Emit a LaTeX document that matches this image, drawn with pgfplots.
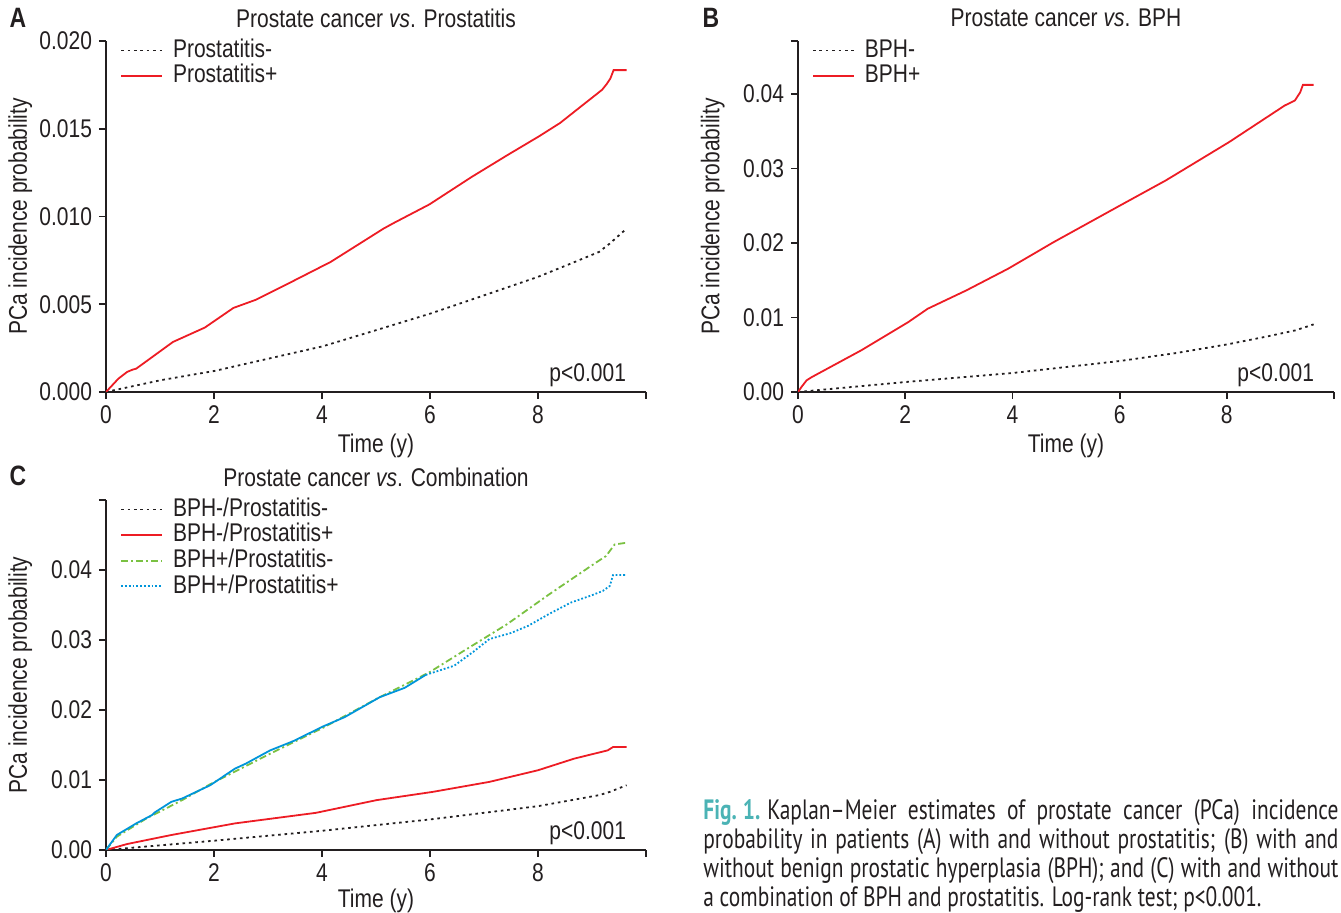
\documentclass[border=0pt]{standalone}
\usepackage{pgfplots}
\pgfplotsset{compat=1.18}
\usepackage{fontspec}
\setmainfont[FakeStretch=0.82]{Liberation Sans}
\newfontfamily\capfont[FakeStretch=0.765, Ligatures=TeX]{PT Sans}
\definecolor{txt}{HTML}{231F20}
\definecolor{kmred}{HTML}{ED1C24}
\definecolor{kmgreen}{HTML}{7AC142}
\definecolor{kmblue}{HTML}{0095DA}
\definecolor{figteal}{HTML}{4BB3B5}

\newcommand{\fs}{\fontsize{12.8}{14}\selectfont}

\pgfplotsset{
  km/.style={
    scale only axis, width=270pt, height=175.5pt,
    xmin=0, xmax=10, ymin=0,
    axis x line*=bottom, axis y line*=left,
    axis line style={-, line width=0.9pt},
    tick align=outside, major tick length=3.5pt,
    every tick/.style={line width=0.9pt, txt},
    scaled y ticks=false,
    xtick={0,2,4,6,8,10}, xticklabels={0,2,4,6,8,{}},
    tick label style={font=\fs},
    label style={font=\fs},
    xlabel={Time (y)}, ylabel={PCa incidence probability},
    xlabel style={at={(axis description cs:0.5,0)}, anchor=center, yshift=-27pt},
    ylabel style={at={(axis description cs:-0.159,0.5)}, anchor=center},
    every axis title shift=0pt,
    title style={font=\fs, at={(axis description cs:0.5,1)}, anchor=center, yshift=11.5pt},
    legend cell align=left,
    legend image code/.code={\draw[#1] (0pt,0pt) -- (20.5pt,0pt);},
    legend style={draw=none, fill=none, font=\fs,
      at={(rel axis cs:0.0145,1.022)}, anchor=north west,
      row sep=0pt, column sep=4pt,
      nodes={inner sep=1pt, text height=8.8pt, text depth=2pt}},
  },
  negs/.style={txt, line width=0.9pt, dash pattern=on 1.3pt off 1.9pt},
  poss/.style={kmred, line width=0.9pt},
}

\begin{document}
\begin{tikzpicture}[color=txt]
\useasboundingbox (0,0) rectangle (670.5pt,456.5pt);

% panel A
\begin{axis}[km, at={(53pt,260.5pt)}, anchor=south west,
  ymax=0.020, ytick={0,0.005,0.010,0.015,0.020},
  yticklabels={0.000,0.005,0.010,0.015,0.020},
  title={Prostate cancer \textit{vs}. Prostatitis}]
\addplot[negs] coordinates {(0,0) (1.01,0.00067) (2.01,0.00120) (3.01,0.00190) (4.01,0.00260)
  (5.0,0.00352) (6.01,0.00447) (7.10,0.00561) (8.00,0.00656) (8.61,0.00732)
  (9.13,0.00798) (9.33,0.00846) (9.64,0.00931)};
\addplot[poss] coordinates {(0,0) (0.23,0.00076) (0.39,0.00114) (0.49,0.00127) (0.56,0.00133)
  (1.24,0.00285) (1.83,0.00367) (2.36,0.00479) (2.78,0.00526) (3.37,0.00617)
  (4.16,0.00741) (5.14,0.00931) (5.33,0.00963) (5.99,0.01069) (6.77,0.01225)
  (7.43,0.01349) (8.02,0.01457) (8.41,0.01533) (8.80,0.01628) (9.06,0.01691)
  (9.19,0.01723) (9.27,0.01754) (9.34,0.01786) (9.40,0.01834) (9.64,0.01834)};
\legend{Prostatitis-, Prostatitis+}
\node[anchor=base east, font=\fs] at ([xshift=-6.5pt, yshift=5pt]rel axis cs:1,0) {p<0.001};
\end{axis}

% panel B
\begin{axis}[km, at={(399pt,260.5pt)}, anchor=south west, width=268pt,
  ymax=0.0471, ytick={0,0.01,0.02,0.03,0.04},
  yticklabels={0.00,0.01,0.02,0.03,0.04},
  extra y ticks={0.0471}, extra y tick labels={},
  title={Prostate cancer \textit{vs}. BPH}]
\addplot[negs] coordinates {(0,0) (2.01,0.00134) (4.01,0.00255) (6.01,0.00416) (7.06,0.00523)
  (8.01,0.00639) (8.76,0.00746) (9.28,0.00827) (9.62,0.00907)};
\addplot[poss] coordinates {(0,0) (0.065,0.00067) (0.16,0.00156) (0.26,0.00201) (1.18,0.00559)
  (2.06,0.00939) (2.42,0.01117) (3.14,0.01363) (3.92,0.01654) (4.77,0.02011)
  (6.01,0.02503) (6.86,0.02838) (8.04,0.03352) (8.89,0.03754) (9.08,0.03844)
  (9.27,0.03911) (9.37,0.04022) (9.42,0.04121) (9.62,0.04121)};
\legend{BPH-, BPH+}
\node[anchor=base east, font=\fs] at ([xshift=-6.5pt, yshift=5pt]rel axis cs:1,0) {p<0.001};
\end{axis}

% panel C
\begin{axis}[km, at={(53pt,31.5pt)}, anchor=south west, height=175pt,
  ymax=0.05, ytick={0,0.01,0.02,0.03,0.04},
  yticklabels={0.00,0.01,0.02,0.03,0.04},
  extra y ticks={0.05}, extra y tick labels={},
  xlabel style={yshift=1.5pt},
  title={Prostate cancer \textit{vs}. Combination}]
\addplot[negs] coordinates {(0,0) (2.01,0.00133) (4.01,0.00275) (6.01,0.00437) (8.0,0.00626)
  (9.13,0.00783) (9.33,0.00830) (9.64,0.00925)};
\addplot[poss] coordinates {(0,0) (0.39,0.00085) (1.21,0.00214) (2.39,0.00380) (3.89,0.00531)
  (5.01,0.00712) (6.05,0.00830) (7.10,0.00973) (8.0,0.01139) (8.67,0.01305)
  (9.29,0.01423) (9.39,0.01471) (9.64,0.01471)};
\addplot[kmgreen, line width=0.9pt, dash pattern=on 3.5pt off 1.5pt on 1pt off 1.5pt] coordinates {
  (0,0) (0.2,0.0019) (0.75,0.00451) (1.41,0.00712) (1.93,0.0094) (3.04,0.01376)
  (4.02,0.01746) (5.01,0.02159) (5.99,0.02539) (6.58,0.02823) (7.43,0.03227)
  (8.21,0.03654) (9.07,0.04104) (9.26,0.04199) (9.42,0.04365) (9.64,0.04389)};
\addplot[kmblue, line width=0.9pt, densely dotted] coordinates {
  (5.92,0.02501) (6.45,0.02633) (6.8,0.02830) (7.10,0.03013) (7.5,0.03100) (7.82,0.03203)
  (8.2,0.03370) (8.61,0.03535) (9.0,0.03640) (9.20,0.03701) (9.33,0.03772)
  (9.39,0.03929) (9.64,0.03929)};
\addplot[kmblue, line width=0.9pt, forget plot] coordinates {
  (0,0) (0.2,0.00214) (0.56,0.0038) (0.85,0.00498) (0.9,0.00535) (1.21,0.00688)
  (1.41,0.00735) (1.93,0.00925) (2.39,0.01163) (2.59,0.01234) (3.04,0.01423)
  (3.47,0.01556) (4.02,0.01765) (4.42,0.01898) (5.07,0.02183) (5.53,0.02316)
  (5.92,0.02501)};
\legend{BPH-/Prostatitis-, BPH-/Prostatitis+, BPH+/Prostatitis-, BPH+/Prostatitis+}
\node[anchor=base east, font=\fs] at ([xshift=-6.5pt, yshift=5pt]rel axis cs:1,0) {p<0.001};
\end{axis}

% panel letters
\node[font=\fontsize{14}{16}\selectfont\bfseries] at (9pt,447.5pt) {A};
\node[font=\fontsize{14}{16}\selectfont\bfseries] at (355.5pt,447.5pt) {B};
\node[font=\fontsize{14}{16}\selectfont\bfseries] at (9pt,218.5pt) {C};

% caption
\begin{scope}[every node/.style={anchor=base west, inner sep=0pt, font=\capfont\fontsize{14}{15}\selectfont}]
\node at (351.5pt,46.95pt) {\makebox[317.5pt][s]{\textcolor{figteal}{\bfseries Fig.\hspace{0.22em}1.}\hspace{0.25em}Kaplan–Meier estimates of prostate cancer (PCa) incidence}};
\node at (351.5pt,32.3pt) {\makebox[317.5pt][s]{probability in patients (A) with and without prostatitis; (B) with and}};
\node at (351.5pt,17.65pt) {\makebox[317.5pt][s]{without benign prostatic hyperplasia (BPH); and (C) with and without}};
\node at (351.5pt,3pt) {a combination of BPH and prostatitis. Log-rank test; p<0.001.};
\end{scope}
\end{tikzpicture}
\end{document}
